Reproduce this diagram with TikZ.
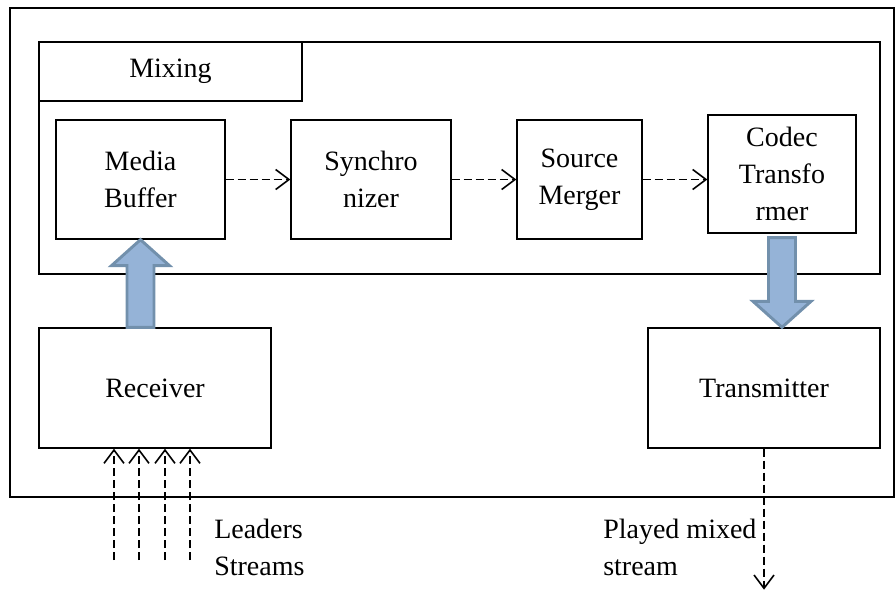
\documentclass[tikz,border=0pt]{standalone}
\usepackage{fontspec}
\setmainfont{Liberation Serif}
\usetikzlibrary{calc,arrows.meta}

\definecolor{arrfill}{HTML}{95B3D7}
\definecolor{arrline}{HTML}{7290AC}
\newcommand{\pxu}{0.75pt}

\tikzset{
    blk/.style={draw, line width=1pt, inner sep=0pt, align=center},
    dasharr/.style={dashed, dash pattern=on 6pt off 3pt, line width=1.3pt,
        -{Straight Barb[length=10pt,width=15pt,line width=1.2pt]}},
    blockarrow/.style={fill=arrfill, draw=arrline, line width=2.2pt, line join=miter}
}

\begin{document}
\begin{tikzpicture}[x=0.75pt, y=-0.75pt, font=\fontsize{21}{27.75}\selectfont]
    \useasboundingbox (0,0) rectangle (896,590);

    % frames
    \node[blk, minimum width=884*\pxu, minimum height=489*\pxu] (outer) at (452,252.5) {};
    \node[blk, minimum width=841*\pxu, minimum height=232*\pxu] (mix) at (459.5,158) {};
    \node[blk, minimum width=263*\pxu, minimum height=59*\pxu] (tab) at (170.5,71.5) {Mixing};

    % mixing stages
    \node[blk, minimum width=169*\pxu, minimum height=119*\pxu] (mb) at (140.5,179.5) {Media\\Buffer};
    \node[blk, minimum width=160*\pxu, minimum height=119*\pxu] (syn) at (371,179.5) {Synchro\\nizer};
    \node[blk, minimum width=125*\pxu, minimum height=119*\pxu] (sm) at (579.5,179.5) {Source\\Merger};
    \node[blk, minimum width=148*\pxu, minimum height=118*\pxu] (cod) at (782,174) {Codec\\Transfo\\rmer};

    \node[blk, minimum width=232*\pxu, minimum height=120*\pxu] (rx) at (155,388) {Receiver};
    \node[blk, minimum width=232*\pxu, minimum height=120*\pxu] (tx) at (764,388) {Transmitter};

    \draw[dasharr] (mb.east) -- (syn.west);
    \draw[dasharr] (syn.east) -- (sm.west);
    \draw[dasharr] (sm.east) -- (sm.east -| cod.west);

    % block arrows
    \coordinate (ua) at (mb.south |- rx.north);
    \draw[blockarrow] (mb.south) -- ++(29,26) -- ++(-15.5,0)
        -- ($(ua)+(13.5,0)$) -- ($(ua)+(-13.5,0)$)
        -- ($(mb.south)+(-13.5,26)$) -- ++(-15.5,0) -- cycle;

    \coordinate (da) at (cod.south |- tx.north);
    \draw[blockarrow] (da) -- ++(29,-26) -- ++(-15.5,0)
        -- ($(cod.south)+(13.5,4)$) -- ($(cod.south)+(-13.5,4)$)
        -- ($(da)+(-13.5,-26)$) -- ++(-15.5,0) -- cycle;

    % streams in / out
    \foreach \i/\x in {1/114, 2/139, 3/165, 4/190} {
        \coordinate (in\i) at (\x,560);
        \draw[dasharr] (in\i) -- (in\i |- rx.south);
    }
    \node[anchor=west, align=left, inner sep=0pt] (lead) at (214,547) {Leaders\\Streams};

    \coordinate (out) at ($(tx.south)+(0,141)$);
    \draw[dasharr] (tx.south) -- (out);
    \node[anchor=west, align=left, inner sep=0pt] (play) at (603,547) {Played mixed\\stream};
\end{tikzpicture}
\end{document}
